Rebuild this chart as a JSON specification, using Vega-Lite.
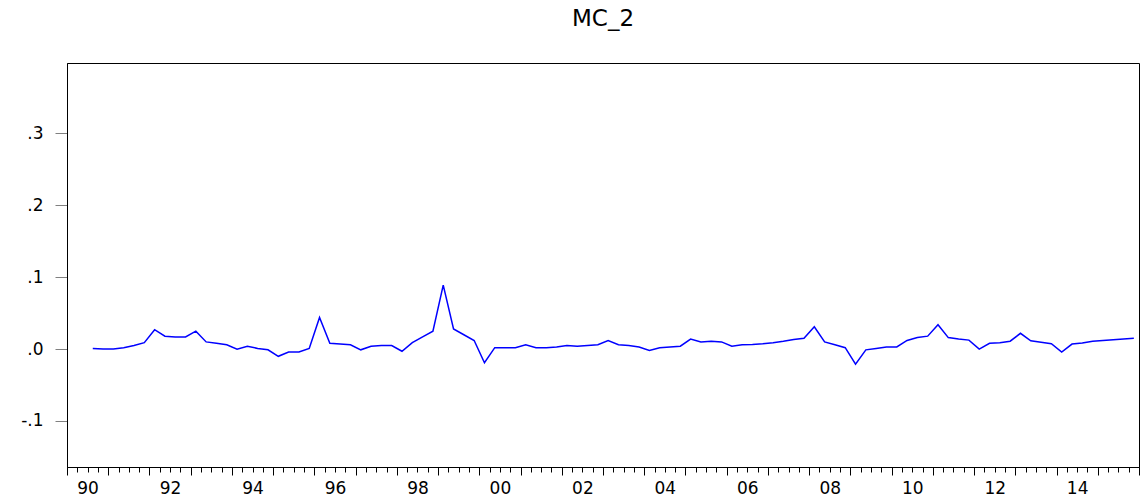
{
  "$schema": "https://vega.github.io/schema/vega-lite/v6.json",
  "width": 1072,
  "height": 404,
  "autosize": {"type": "none"},
  "padding": {"left": 67, "top": 63, "right": 2, "bottom": 35},
  "background": "white",
  "title": {"text": "MC_2", "font": "DejaVu Sans", "fontSize": 23, "fontWeight": "normal", "color": "black", "anchor": "middle", "frame": "group", "baseline": "alphabetic", "offset": 14},
  "config": {"view": {"stroke": "black", "strokeWidth": 1}},
  "data": {"values": [
    {"t": 1990.625, "value": 0.001},
    {"t": 1990.875, "value": 0.000},
    {"t": 1991.125, "value": 0.000},
    {"t": 1991.375, "value": 0.002},
    {"t": 1991.625, "value": 0.005},
    {"t": 1991.875, "value": 0.009},
    {"t": 1992.125, "value": 0.027},
    {"t": 1992.375, "value": 0.018},
    {"t": 1992.625, "value": 0.017},
    {"t": 1992.875, "value": 0.017},
    {"t": 1993.125, "value": 0.025},
    {"t": 1993.375, "value": 0.010},
    {"t": 1993.625, "value": 0.008},
    {"t": 1993.875, "value": 0.006},
    {"t": 1994.125, "value": 0.000},
    {"t": 1994.375, "value": 0.004},
    {"t": 1994.625, "value": 0.001},
    {"t": 1994.875, "value": -0.001},
    {"t": 1995.125, "value": -0.010},
    {"t": 1995.375, "value": -0.004},
    {"t": 1995.625, "value": -0.004},
    {"t": 1995.875, "value": 0.001},
    {"t": 1996.125, "value": 0.044},
    {"t": 1996.375, "value": 0.008},
    {"t": 1996.625, "value": 0.007},
    {"t": 1996.875, "value": 0.006},
    {"t": 1997.125, "value": -0.001},
    {"t": 1997.375, "value": 0.004},
    {"t": 1997.625, "value": 0.005},
    {"t": 1997.875, "value": 0.005},
    {"t": 1998.125, "value": -0.003},
    {"t": 1998.375, "value": 0.009},
    {"t": 1998.625, "value": 0.017},
    {"t": 1998.875, "value": 0.025},
    {"t": 1999.125, "value": 0.089},
    {"t": 1999.375, "value": 0.028},
    {"t": 1999.625, "value": 0.020},
    {"t": 1999.875, "value": 0.012},
    {"t": 2000.125, "value": -0.019},
    {"t": 2000.375, "value": 0.002},
    {"t": 2000.625, "value": 0.002},
    {"t": 2000.875, "value": 0.002},
    {"t": 2001.125, "value": 0.006},
    {"t": 2001.375, "value": 0.002},
    {"t": 2001.625, "value": 0.002},
    {"t": 2001.875, "value": 0.003},
    {"t": 2002.125, "value": 0.005},
    {"t": 2002.375, "value": 0.004},
    {"t": 2002.625, "value": 0.005},
    {"t": 2002.875, "value": 0.006},
    {"t": 2003.125, "value": 0.012},
    {"t": 2003.375, "value": 0.006},
    {"t": 2003.625, "value": 0.005},
    {"t": 2003.875, "value": 0.003},
    {"t": 2004.125, "value": -0.002},
    {"t": 2004.375, "value": 0.002},
    {"t": 2004.625, "value": 0.003},
    {"t": 2004.875, "value": 0.004},
    {"t": 2005.125, "value": 0.014},
    {"t": 2005.375, "value": 0.010},
    {"t": 2005.625, "value": 0.011},
    {"t": 2005.875, "value": 0.010},
    {"t": 2006.125, "value": 0.004},
    {"t": 2006.375, "value": 0.006},
    {"t": 2006.625, "value": 0.0065},
    {"t": 2006.875, "value": 0.0075},
    {"t": 2007.125, "value": 0.009},
    {"t": 2007.375, "value": 0.011},
    {"t": 2007.625, "value": 0.0135},
    {"t": 2007.875, "value": 0.015},
    {"t": 2008.125, "value": 0.031},
    {"t": 2008.375, "value": 0.010},
    {"t": 2008.625, "value": 0.006},
    {"t": 2008.875, "value": 0.002},
    {"t": 2009.125, "value": -0.021},
    {"t": 2009.375, "value": -0.001},
    {"t": 2009.625, "value": 0.001},
    {"t": 2009.875, "value": 0.003},
    {"t": 2010.125, "value": 0.003},
    {"t": 2010.375, "value": 0.012},
    {"t": 2010.625, "value": 0.016},
    {"t": 2010.875, "value": 0.018},
    {"t": 2011.125, "value": 0.034},
    {"t": 2011.375, "value": 0.016},
    {"t": 2011.625, "value": 0.014},
    {"t": 2011.875, "value": 0.0125},
    {"t": 2012.125, "value": 0.000},
    {"t": 2012.375, "value": 0.008},
    {"t": 2012.625, "value": 0.009},
    {"t": 2012.875, "value": 0.011},
    {"t": 2013.125, "value": 0.022},
    {"t": 2013.375, "value": 0.0115},
    {"t": 2013.625, "value": 0.0095},
    {"t": 2013.875, "value": 0.0075},
    {"t": 2014.125, "value": -0.004},
    {"t": 2014.375, "value": 0.007},
    {"t": 2014.625, "value": 0.0085},
    {"t": 2014.875, "value": 0.011},
    {"t": 2015.125, "value": 0.012},
    {"t": 2015.375, "value": 0.013},
    {"t": 2015.625, "value": 0.014},
    {"t": 2015.875, "value": 0.015}
  ]},
  "mark": {"type": "line", "color": "#0000FF", "strokeWidth": 1.5, "clip": true},
  "encoding": {
    "x": {
      "field": "t", "type": "quantitative",
      "scale": {"domain": [1990, 2016], "nice": false, "zero": false},
      "axis": {
        "title": null, "grid": false,
        "values": [1990,1990.25,1990.5,1990.75,1991,1991.25,1991.5,1991.75,1992,1992.25,1992.5,1992.75,1993,1993.25,1993.5,1993.75,1994,1994.25,1994.5,1994.75,1995,1995.25,1995.5,1995.75,1996,1996.25,1996.5,1996.75,1997,1997.25,1997.5,1997.75,1998,1998.25,1998.5,1998.75,1999,1999.25,1999.5,1999.75,2000,2000.25,2000.5,2000.75,2001,2001.25,2001.5,2001.75,2002,2002.25,2002.5,2002.75,2003,2003.25,2003.5,2003.75,2004,2004.25,2004.5,2004.75,2005,2005.25,2005.5,2005.75,2006,2006.25,2006.5,2006.75,2007,2007.25,2007.5,2007.75,2008,2008.25,2008.5,2008.75,2009,2009.25,2009.5,2009.75,2010,2010.25,2010.5,2010.75,2011,2011.25,2011.5,2011.75,2012,2012.25,2012.5,2012.75,2013,2013.25,2013.5,2013.75,2014,2014.25,2014.5,2014.75,2015,2015.25,2015.5,2015.75,2016],
        "tickSize": {"condition": {"test": "datum.value % 1 === 0", "value": 8}, "value": 5},
        "tickColor": "black", "tickWidth": 1,
        "domainColor": "black", "domainWidth": 1,
        "labelExpr": "(datum.value % 2 === 0.5) ? slice('0' + (floor(datum.value) % 100), -2) : ''",
        "labelOverlap": false, "labelFlush": false,
        "labelFont": "DejaVu Sans", "labelFontSize": 17, "labelColor": "black",
        "labelPadding": 8
      }
    },
    "y": {
      "field": "value", "type": "quantitative",
      "scale": {"domain": [-0.164, 0.398], "nice": false, "zero": false},
      "axis": {
        "title": null, "grid": false,
        "values": [-0.1, 0, 0.1, 0.2, 0.3],
        "labelExpr": "(datum.value < 0 ? '-' : '') + replace(format(abs(datum.value), '.1f'), '0.', '.')",
        "tickSize": 12, "tickColor": "#808080", "tickWidth": 1,
        "domainColor": "black", "domainWidth": 1,
        "labelFont": "DejaVu Sans", "labelFontSize": 17, "labelColor": "black",
        "labelPadding": 12
      }
    }
  }
}
